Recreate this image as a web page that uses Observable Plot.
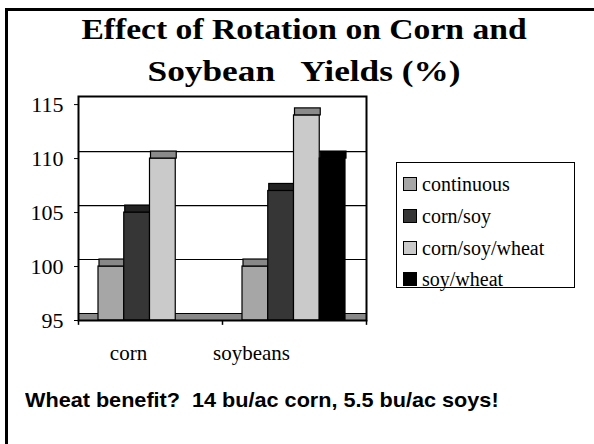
<!DOCTYPE html>
<html>
<head>
<meta charset="utf-8">
<script src="https://cdn.jsdelivr.net/npm/d3@7"></script>
<script src="https://cdn.jsdelivr.net/npm/@observablehq/plot@0.6"></script>
<style>
  html, body { margin: 0; padding: 0; background: #fff; }
  #page { position: relative; width: 594px; height: 444px; overflow: hidden; background: #fff; }
  #border { position: absolute; left: 5px; top: 8px; width: 700px; height: 600px;
            border-left: 3px solid #000; border-top: 3px solid #000; }
  #title { position: absolute; left: 14px; top: 8px; width: 580px; text-align: center; white-space: pre;
           font-family: "Liberation Serif", serif; font-weight: bold; font-size: 30px; line-height: 42px; color: #000;
           transform: scaleX(1.12); transform-origin: 290px 0; }
  #title .l2 { display: inline-block; transform: scaleX(1.05); }
  #chart { position: absolute; left: 0; top: 85px; }
  #legend { position: absolute; left: 396px; top: 162px; width: 177px; height: 124px;
            border: 1.5px solid #000; font-family: "Liberation Serif", serif; font-size: 20px; color: #000; }
  .item { position: absolute; left: 6px; height: 20px; line-height: 20px; white-space: nowrap; }
  .sw { display: inline-block; width: 12px; height: 12px; border: 1px solid #000; vertical-align: middle; margin-right: 5px; position: relative; top: -2px; }
  #caption { position: absolute; left: 25px; top: 388px; white-space: pre;
             font-family: "Liberation Sans", Arial, sans-serif; font-weight: bold; font-size: 21px; color: #000;
             transform: scaleX(1.03); transform-origin: 0 0; }
</style>
</head>
<body>
<div id="page">
  <div id="border"></div>
  <div id="title">Effect of Rotation on Corn and
<span class="l2">Soybean   Yields (%)</span></div>
  <div id="chart"></div>
  <div id="legend"></div>
  <div id="caption">Wheat benefit?  14 bu/ac corn, 5.5 bu/ac soys!</div>
</div>
<script>
// ---- data ----
const crops = ["corn", "soybeans"];
const rotations = ["continuous", "corn/soy", "corn/soy/wheat", "soy/wheat"];
const cornValues = [100, 105, 110, null];
const soyValues = [100, 107, 114, 110];
const yTicks = [95, 100, 105, 110, 115];
const gridValues = [100, 105, 110];

// ---- styles ----
const frontColors = ["#a6a6a6", "#363636", "#cacaca", "#000000"];
const topColors = ["#888888", "#222222", "#8a8a8a", "#000000"];

const data = [];
crops.forEach((c, i) => {
  const vals = i === 0 ? cornValues : soyValues;
  rotations.forEach((r, j) => { if (vals[j] != null) data.push({crop: c, rotation: r, value: vals[j]}); });
});

const bw = 144;          // band width in px (plot area 288 / 2)
const groupPad = 20;     // px from band start to first bar
const barW = 25.75;      // px per bar
const depth = 7;         // px for the 3D depth

const barMarks = [];
rotations.forEach((r, j) => {
  const subset = data.filter(d => d.rotation === r);
  const insetLeft = groupPad + barW * j;
  const insetRight = bw - groupPad - barW * (j + 1);
  barMarks.push(Plot.barY(subset, {x: "crop", y1: 95, y2: "value", fill: frontColors[j], stroke: "#000", strokeWidth: 1.2, insetLeft, insetRight}));
  barMarks.push(Plot.barY(subset, {x: "crop", y1: "value", y2: "value", fill: topColors[j], stroke: "#000", strokeWidth: 1.2, insetLeft: insetLeft + 1, insetRight: insetRight - 1, insetTop: -depth}));
});

const chart = Plot.plot({
  width: 594,
  height: 300,
  marginLeft: 78,
  marginRight: 228,
  marginTop: 11,
  marginBottom: 65,
  style: {fontFamily: "'Liberation Serif', serif", fontSize: "22px", color: "#000", background: "transparent"},
  x: {domain: crops, padding: 0, axis: null},
  y: {domain: [95, 115.75], ticks: yTicks, tickSize: 4, tickPadding: 11, label: null, tickFormat: d => String(d)},
  marks: [
    Plot.ruleY(gridValues, {stroke: "#000", strokeWidth: 1.2, dy: -depth}),
    Plot.ruleY([95], {stroke: "#888", strokeWidth: depth, dy: -depth / 2}),
    Plot.ruleY([95], {stroke: "#000", strokeWidth: 1.2, dy: -depth}),
    ...barMarks,
    Plot.frame({stroke: "#000", strokeWidth: 2}),
    Plot.ruleX(crops, {x: d => d, y1: 95, y2: 94.55, dx: -bw / 2, stroke: "#000", strokeWidth: 1.5}),
    Plot.ruleX(["soybeans"], {x: d => d, y1: 95, y2: 94.55, dx: bw / 2, stroke: "#000", strokeWidth: 1.5}),
    Plot.text(["corn"], {x: d => d, y: 95, dy: 33, dx: -22, text: d => d, fontSize: 21}),
    Plot.text(["soybeans"], {x: d => d, y: 95, dy: 33, dx: -43, text: d => d, fontSize: 21})
  ]
});
document.getElementById("chart").appendChild(chart);

// legend
const legend = document.getElementById("legend");
const rowTops = [11, 43, 75, 106];
rotations.forEach((r, j) => {
  const it = document.createElement("div");
  it.className = "item";
  it.style.top = rowTops[j] + "px";
  it.innerHTML = `<span class="sw" style="background:${frontColors[j]}"></span>${r}`;
  legend.appendChild(it);
});
</script>
</body>
</html>
